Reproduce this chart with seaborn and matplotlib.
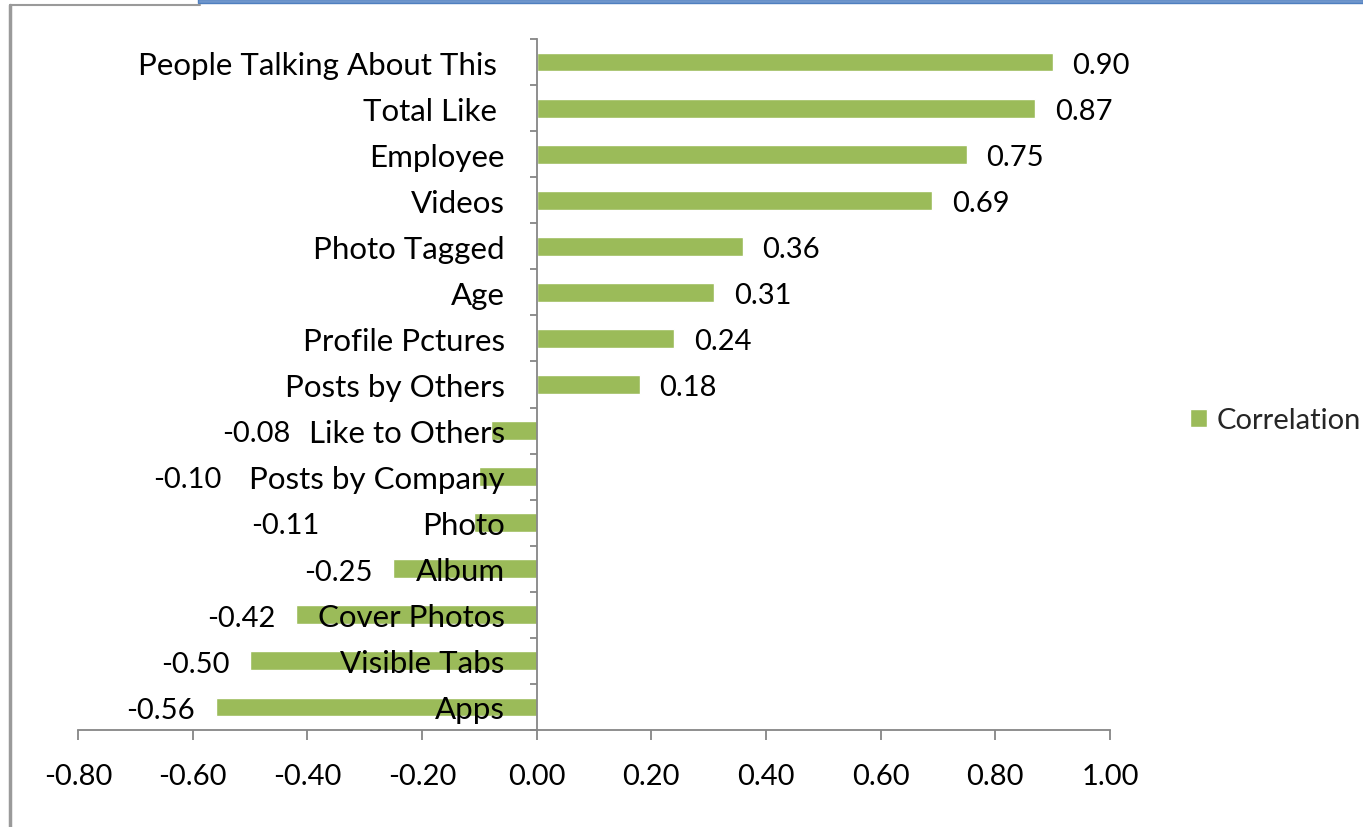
import matplotlib
matplotlib.use("Agg")
import matplotlib.pyplot as plt
from matplotlib.lines import Line2D
from matplotlib.patches import Rectangle
import seaborn as sns
import pandas as pd
import numpy as np

categories = [
    "People Talking About This ", "Total Like ", "Employee", "Videos",
    "Photo Tagged", "Age", "Profile Pctures", "Posts by Others",
    "Like to Others", "Posts by Company", "Photo", "Album",
    "Cover Photos", "Visible Tabs", "Apps",
]
correlation = [0.90, 0.87, 0.75, 0.69, 0.36, 0.31, 0.24, 0.18,
               -0.08, -0.10, -0.11, -0.25, -0.42, -0.50, -0.56]
series_name = "Correlation"
x_ticks = [-0.80, -0.60, -0.40, -0.20, 0.00, 0.20, 0.40, 0.60, 0.80, 1.00]

# short negative bars: their value labels are moved clear of the category
# names (x of the label's right edge, in axis units)
moved_label_x = {8: -0.43, 9: -0.549, 10: -0.378}

BAR = "#9BBB59"
AXIS = "#868686"
FONT = ["Lato", "DejaVu Sans"]
NUM_SIZE = 21
CAT_SIZE = 22.5
LABEL_DROP = -2  # points; digits sit a touch low of the bar centre

sns.set_theme(style="white")
plt.rcParams["font.family"] = FONT

df = pd.DataFrame({"category": categories, "value": correlation,
                   "series": series_name})

fig = plt.figure(figsize=(13.63, 8.28), dpi=100)
W, H = 1363, 828
ax = fig.add_axes([78 / W, (H - 731) / H, (1110 - 78) / W, (731 - 40) / H])

sns.barplot(data=df, x="value", y="category", hue="series",
            palette=[BAR], orient="h", width=0.41, ax=ax,
            saturation=1, legend=True)

ax.set_xlim(x_ticks[0], x_ticks[-1])
ax.set_ylim(len(categories) - 0.5, -0.5)
ax.set_xlabel("")
ax.set_ylabel("")
ax.set_axisbelow(False)  # category names are drawn over the bars

# spines: vertical axis sits on zero
for s in ("top", "right"):
    ax.spines[s].set_visible(False)
ax.spines["left"].set_position(("data", 0))
for s in ("left", "bottom"):
    ax.spines[s].set_color(AXIS)
    ax.spines[s].set_linewidth(1.3)

ax.set_xticks(x_ticks)
ax.set_xticklabels([f"{t:.2f}" for t in x_ticks])
ax.tick_params(axis="x", direction="out", length=7.5, width=1.3,
               color=AXIS, pad=16, labelsize=NUM_SIZE, labelcolor="#000000",
               bottom=True)

# category boundaries carry the tick marks; labels sit at category centres
ax.set_yticks(np.arange(len(categories)))
ax.set_yticks(np.arange(len(categories) + 1) - 0.5, minor=True)
ax.tick_params(axis="y", which="major", length=0, pad=23,
               labelsize=CAT_SIZE, labelcolor="#000000", left=True)
ax.tick_params(axis="y", which="minor", direction="out", length=5,
               width=1.3, color=AXIS, left=True)

# value labels beside the bar ends
for i, v in enumerate(correlation):
    if v >= 0:
        anchor, dx, ha = v, 14, "left"
    elif i in moved_label_x:
        anchor, dx, ha = moved_label_x[i], 0, "right"
    else:
        anchor, dx, ha = v, -15, "right"
    ax.annotate(f"{v:.2f}", xy=(anchor, i), xytext=(dx, LABEL_DROP),
                textcoords="offset points", va="center", ha=ha,
                fontsize=NUM_SIZE, color="#000000")

sns.move_legend(ax, "center left", bbox_to_anchor=(1.0775, 0.4485),
                frameon=False, title=None, fontsize=NUM_SIZE,
                borderaxespad=0, borderpad=0,
                handlelength=0.6, handleheight=0.6, handletextpad=0.3)

# surrounding frame
fig.add_artist(Line2D([10 / W, 10 / W], [0, (H - 6) / H],
                      transform=fig.transFigure, color="#9a9a9a", lw=2.5))
fig.add_artist(Line2D([10 / W, 200 / W], [(H - 6) / H, (H - 6) / H],
                      transform=fig.transFigure, color="#9a9a9a", lw=1.5))
fig.add_artist(Rectangle((198 / W, (H - 4) / H), (W - 198) / W, 4 / H,
                         transform=fig.transFigure, facecolor="#6F96CC",
                         edgecolor="#4F7FBF", lw=1))

fig.savefig("out.png", dpi=100)
